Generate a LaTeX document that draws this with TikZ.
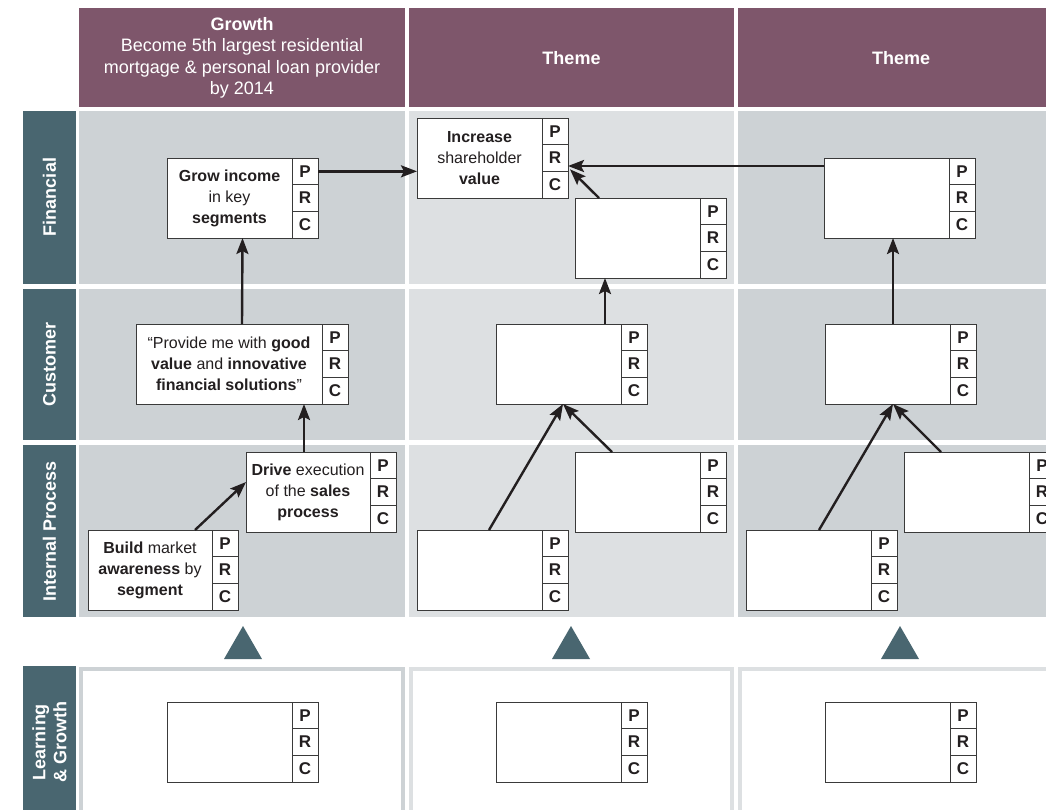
\documentclass[tikz,border=0pt]{standalone}
\usepackage{fontspec}
\setmainfont{Liberation Sans}
\usetikzlibrary{arrows.meta}
\definecolor{plum}{HTML}{7E566B}
\definecolor{tealside}{HTML}{496670}
\definecolor{gdark}{HTML}{CDD2D5}
\definecolor{glight}{HTML}{DDE0E2}
\definecolor{ink}{HTML}{231F20}
\definecolor{boxline}{HTML}{3A3A3A}
\tikzset{
  boxframe/.style={draw=boxline, line width=1pt, fill=white, minimum height=80pt, inner sep=0pt, outer sep=0pt},
  boxtext/.style={align=center, inner sep=0pt, text=ink, font=\fontsize{16}{21}\selectfont},
  prccell/.style={draw=boxline, line width=1pt, fill=white, minimum width=26pt, minimum height=80pt/3, inner sep=0pt, outer sep=0pt, font=\fontsize{17}{17}\selectfont\bfseries, text=ink},
  arr/.style={draw=ink, line width=2.4pt, -{Stealth[length=16pt,width=12pt,inset=3pt]}},
  headertext/.style={text=white, align=center, inner sep=0pt, font=\fontsize{18}{21.5}\selectfont},
  sidelabel/.style={text=white, font=\fontsize{18}{21}\selectfont\bfseries, rotate=90, align=center, inner sep=0pt},
}
\newcommand{\prcbox}[5]{%
  \node[boxframe, minimum width=#4pt+26pt, anchor=north west] (#1) at (#2,#3) {};
  \node[boxtext] (#1-t) at ([xshift=-13pt]#1.center) {#5};
  \node[prccell, anchor=north east] (#1-p) at (#1.north east) {P};
  \node[prccell, anchor=east] (#1-r) at (#1.east) {R};
  \node[prccell, anchor=south east] (#1-c) at (#1.south east) {C};
}
\begin{document}
\begin{tikzpicture}[x=1pt,y=-1pt]
\clip (0,0) rectangle (1046,809);
\fill[white] (0,0) rectangle (1046,809);
% headers
\fill[plum] (79,8) rectangle (405,107);
\fill[plum] (409,8) rectangle (734,107);
\fill[plum] (738,8) rectangle (1046,107);
\node[headertext] (h1) at (242,58) {\textbf{Growth}\\Become 5th largest residential\\mortgage \& personal loan provider\\by 2014};
\node[headertext] (h2) at (571.5,58) {\textbf{Theme}};
\node[headertext] (h3) at (901,58) {\textbf{Theme}};
% row backgrounds
\foreach \ya/\yb in {111/284, 289/440, 445/617} {
  \fill[gdark] (79,\ya) rectangle (405,\yb);
  \fill[glight] (409,\ya) rectangle (734,\yb);
  \fill[gdark] (738,\ya) rectangle (1046,\yb);
  \fill[tealside] (23,\ya) rectangle (76,\yb);
}
\fill[tealside] (23,666) rectangle (76,812);
% learning & growth frames
\fill[gdark] (79,667) rectangle (405,812); \fill[white] (83,671) rectangle (401,812);
\fill[glight] (409,667) rectangle (734,812); \fill[white] (413,671) rectangle (730,812);
\fill[glight] (738,667) rectangle (1050,812); \fill[white] (742,671) rectangle (1050,812);
% side labels
\node[sidelabel] (sfin) at (49.5,197) {Financial};
\node[sidelabel] (scus) at (49.5,364) {Customer};
\node[sidelabel] (sint) at (49.5,531) {Internal Process};
\node[sidelabel] (slg) at (49.5,742) {Learning\\\& Growth};
% triangles
\foreach \cx in {243,571,900} {
  \fill[tealside] (\cx-19,659) -- (\cx+19,659) -- (\cx,626) -- cycle;
}
% boxes
\prcbox{f1}{167}{158}{125}{\textbf{Grow income}\\in key\\\textbf{segments}}
\prcbox{inc}{417}{118}{125}{\textbf{Increase}\\shareholder\\\textbf{value}}
\prcbox{f2}{575}{198}{125}{}
\prcbox{f3}{824}{158}{125}{}
\prcbox{c1}{136}{324}{186}{“Provide me with \textbf{good}\\\textbf{value} and \textbf{innovative}\\\textbf{financial solutions}”}
\prcbox{c2}{496}{324}{125}{}
\prcbox{c3}{825}{324}{125}{}
\prcbox{i1}{246}{452}{124}{\textbf{Drive} execution\\of the \textbf{sales}\\\textbf{process}}
\prcbox{i0}{88}{530}{124}{\textbf{Build} market\\\textbf{awareness} by\\\textbf{segment}}
\prcbox{i2a}{417}{530}{125}{}
\prcbox{i2b}{575}{452}{125}{}
\prcbox{i3a}{746}{530}{125}{}
\prcbox{i3b}{904}{452}{125}{}
\prcbox{l1}{167}{702}{125}{}
\prcbox{l2}{496}{702}{125}{}
\prcbox{l3}{825}{702}{125}{}
% connectors
\draw[arr] (f1-p.east) -- (f1-p.east -| inc.west);
\coordinate (f3a) at ([yshift=-8pt]f3.north west);
\draw[arr] (f3a) -- (f3a -| inc.east);
\draw[arr] ([xshift=24pt]f2.north west) -- ([xshift=2pt,yshift=2pt]inc-r.south east);
\draw[arr] (c1.north) -- (f1.south);
\coordinate (i1t) at ([xshift=58pt]i1.north west);
\draw[arr] (i1t) -- (i1t |- c1.south);
\draw[arr] ([xshift=107pt]i0.north west) -- ([yshift=10pt]i1.west);
\coordinate (c2t) at ([xshift=109pt]c2.north west);
\draw[arr] (c2t) -- (c2t |- f2.south);
\draw[arr] ([xshift=72pt]i2a.north west) -- ([xshift=67pt]c2.south west);
\draw[arr] ([xshift=37pt]i2b.north west) -- ([xshift=67pt]c2.south west);
\coordinate (c3t) at ([xshift=68pt]c3.north west);
\draw[arr] (c3t) -- (c3t |- f3.south);
\draw[arr] ([xshift=73pt]i3a.north west) -- ([xshift=68pt]c3.south west);
\draw[arr] ([xshift=37pt]i3b.north west) -- ([xshift=68pt]c3.south west);
\end{tikzpicture}
\end{document}
